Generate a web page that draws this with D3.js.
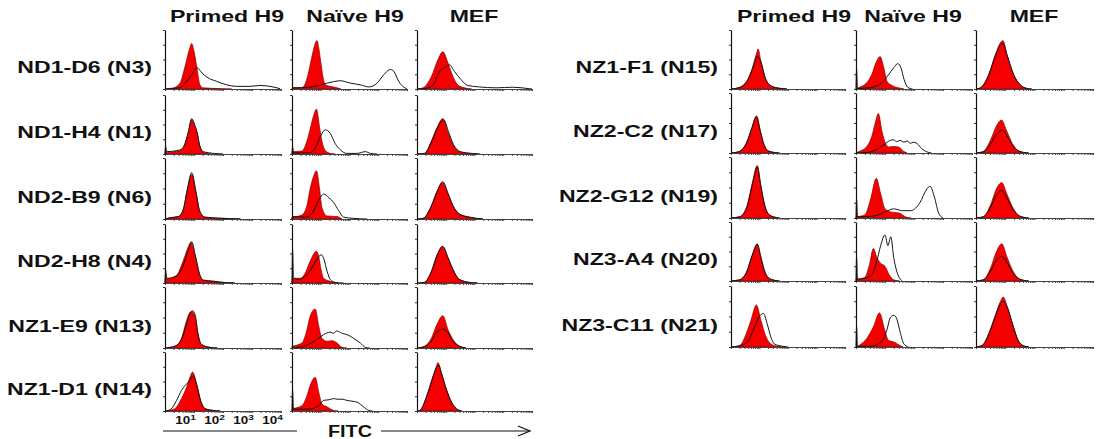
<!DOCTYPE html>
<html><head><meta charset="utf-8">
<script src="https://cdn.jsdelivr.net/npm/d3@7"></script>
<style>
html,body{margin:0;padding:0;background:#fff;}
svg{display:block;}
text{font-family:"Liberation Sans",Arial,sans-serif;font-weight:bold;fill:#111;}
</style></head>
<body>
<svg id="chart" width="1103" height="439"></svg>
<script>
// ---------------- DATA ----------------
const columns = ["Primed H9", "Naïve H9", "MEF"];
const leftRows = ["ND1-D6 (N3)", "ND1-H4 (N1)", "ND2-B9 (N6)", "ND2-H8 (N4)", "NZ1-E9 (N13)", "NZ1-D1 (N14)"];
const rightRows = ["NZ1-F1 (N15)", "NZ2-C2 (N17)", "NZ2-G12 (N19)", "NZ3-A4 (N20)", "NZ3-C11 (N21)"];
const tickBase = "10";
const tickExponents = ["1", "2", "3", "4"];
const tickValues = [10, 100, 1000, 10000];
const axisTitle = "FITC";
// each histogram: [log10 FITC, % of max count] points; [primed, naive, mef]
const ND1_D6_fill = [
  [[0,0],[0.3,2],[0.52,10],[0.69,38],[0.84,67],[0.92,77],[1.0,64],[1.11,33],[1.2,8],[1.3,2],[2.0,0.5],[2.3,0]],
  [[0,2],[0.3,2],[0.4,4],[0.56,25],[0.68,52],[0.8,76],[0.87,82],[0.93,70],[0.99,50],[1.08,20],[1.16,7],[1.33,4.5],[1.57,2],[1.7,0]],
  [[0,0],[0.21,2],[0.5,21],[0.73,50],[0.9,63],[1.08,44],[1.25,21],[1.42,7],[1.65,2],[1.9,0]]];
const ND1_D6_line = [
  [[0,0],[0.5,2],[0.75,13],[0.92,24],[1.1,36],[1.28,27],[1.45,20],[1.78,13],[2.13,7],[2.47,4.5],[2.93,4.5],[3.28,6],[3.62,4.5],[3.97,0.5]],
  [[0,2],[0.6,3],[1.0,7],[1.22,10],[1.45,12.5],[1.68,14],[2.03,10],[2.38,7],[2.67,3.5],[2.96,10],[3.19,24],[3.42,33],[3.54,30],[3.71,13],[3.88,3.5],[4.0,0]],
  [[0,0],[0.3,1],[0.56,7],[0.79,30],[1.02,38],[1.13,41],[1.3,30],[1.53,16],[1.76,6],[2.17,3.5],[2.75,2],[3.33,3],[3.91,0.5],[4,0]]];
const ND1_H4_fill = [
  [[0,4],[0.1,3],[0.52,6],[0.69,17],[0.8,35],[0.92,58],[1.02,48],[1.11,35],[1.2,13],[1.32,3],[1.6,0]],
  [[0,4],[0.34,5],[0.52,22],[0.63,42],[0.75,65],[0.85,76],[0.96,45],[1.04,22],[1.16,6],[1.33,1],[1.5,0]],
  [[0,0],[0.26,1],[0.5,22],[0.67,42],[0.9,60],[1.08,36],[1.25,16],[1.48,4],[1.83,1],[2.1,0]]];
const ND1_H4_line = [
  [[0,0],[0.02,12],[0.06,4],[0.52,7],[0.69,18],[0.8,37],[0.92,60],[1.02,50],[1.11,36],[1.2,14],[1.32,4],[1.7,1],[2.0,0]],
  [[0,0],[0.02,12],[0.05,2],[0.57,2],[0.8,9],[0.99,30],[1.16,41],[1.33,35],[1.5,18],[1.68,7],[1.91,1],[2.26,1],[2.55,4],[2.73,1],[2.96,0]],
  [[0,0],[0.26,1],[0.5,20],[0.67,40],[0.93,58],[1.1,37],[1.27,16],[1.5,4],[1.9,1],[2.2,0]]];
const ND2_B9_fill = [
  [[0,0],[0.17,2],[0.46,4],[0.63,15],[0.77,48],[0.92,73],[1.07,43],[1.2,12],[1.38,3],[2.36,0.5],[2.6,0]],
  [[0,3],[0.34,6.5],[0.52,22],[0.63,49],[0.75,70],[0.85,79],[0.96,49],[1.04,19],[1.22,5],[1.57,4],[1.74,0]],
  [[0,0],[0.21,1],[0.5,22],[0.7,46],[0.88,60],[1.08,41],[1.25,22],[1.48,8],[1.83,3],[2.29,0]]];
const ND2_B9_line = [
  [[0,0],[0.17,2],[0.46,4],[0.63,16],[0.77,49],[0.92,76],[1.07,44],[1.2,13],[1.38,3],[2.0,1],[2.6,0]],
  [[0,0],[0.02,4],[0.5,3],[0.68,8],[0.96,33],[1.1,41],[1.28,35],[1.45,27],[1.62,14],[1.8,3],[2.15,1],[2.61,0]],
  [[0,0],[0.21,1],[0.5,21],[0.7,45],[0.9,61],[1.08,42],[1.25,22],[1.48,8],[1.83,3],[2.29,0]]];
const ND2_H8_fill = [
  [[0,7],[0.1,7],[0.4,13],[0.63,38],[0.8,61],[0.89,69],[1.05,44],[1.2,13],[1.32,4.5],[1.66,3],[2.1,0.5],[2.4,0]],
  [[0,8],[0.3,8],[0.46,17],[0.63,37],[0.85,54],[0.93,45],[1.01,23],[1.1,8],[1.33,3],[1.57,0]],
  [[0,0],[0.25,1],[0.5,20],[0.7,48],[0.88,62],[1.08,42],[1.25,23],[1.48,6],[1.83,1],[2.1,0]]];
const ND2_H8_line = [
  [[0,0],[0.02,22],[0.06,8],[0.4,12],[0.63,30],[0.8,55],[0.92,70],[1.05,46],[1.2,14],[1.32,5],[1.66,3],[2.1,0.5],[2.4,0]],
  [[0,0],[0.02,56],[0.05,10],[0.2,6],[0.57,17],[0.87,40],[1.01,48],[1.1,42],[1.22,20],[1.33,6],[1.51,1],[1.8,0]],
  [[0,0],[0.25,1],[0.5,19],[0.7,47],[0.9,62],[1.08,43],[1.25,23],[1.48,6],[1.83,1],[2.1,0]]];
const NZ1_E9_fill = [
  [[0,0],[0.34,3],[0.57,16],[0.72,41],[0.84,57],[0.92,60],[1.03,52],[1.14,22],[1.26,5],[1.55,1],[1.8,0]],
  [[0,3],[0.34,8],[0.52,30],[0.63,52],[0.81,64],[0.93,36],[1.04,16],[1.22,11],[1.39,12],[1.57,8],[1.74,1],[1.9,0]],
  [[0,0],[0.26,3],[0.5,16],[0.67,36],[0.9,53],[1.08,30],[1.25,14],[1.48,3],[1.7,0]]];
const NZ1_E9_line = [
  [[0,0],[0.34,3],[0.57,14],[0.72,36],[0.84,54],[0.95,61],[1.05,52],[1.14,23],[1.26,6],[1.55,1],[1.8,0]],
  [[0,0],[0.46,4],[0.87,14],[1.1,22],[1.33,26],[1.45,24],[1.55,28],[1.62,27],[1.75,24],[1.91,22],[2.14,16],[2.38,8],[2.55,1],[2.7,0]],
  [[0,0],[0.26,2],[0.5,11],[0.67,25],[0.9,31],[1.08,25],[1.25,11],[1.48,3],[1.7,0]]];
const NZ1_D1_fill = [
  [[0,0],[0.34,4],[0.57,21],[0.75,41],[0.86,57],[0.95,66],[1.09,46],[1.23,18],[1.38,4],[1.66,1],[1.9,0]],
  [[0,4],[0.34,9],[0.52,26],[0.63,43],[0.81,57],[0.93,32],[1.04,12],[1.22,7],[1.45,1],[1.6,0]],
  [[0,0],[0.1,1],[0.34,26],[0.52,54],[0.67,75],[0.73,82],[0.84,65],[1.02,37],[1.2,15],[1.37,4],[1.55,0]]];
const NZ1_D1_line = [
  [[0,0],[0.2,3],[0.4,18],[0.57,35],[0.75,46],[0.86,52],[0.97,60],[1.09,45],[1.23,17],[1.38,4],[1.66,1],[1.9,0]],
  [[0,0],[0.02,35],[0.05,3],[0.57,3],[0.93,9],[1.1,18],[1.28,19],[1.45,21],[1.57,20],[1.75,20],[1.91,18],[2.26,15],[2.49,7],[2.67,1],[2.8,0]],
  [[0,0],[0.1,1],[0.34,25],[0.52,52],[0.67,73],[0.75,78],[0.86,63],[1.02,37],[1.2,15],[1.37,4],[1.55,0]]];
const NZ1_F1_fill = [
  [[0,0],[0.26,2],[0.55,13],[0.75,36],[0.9,61],[0.95,68],[1.05,47],[1.2,19],[1.38,6],[1.61,2],[1.96,0]],
  [[0,0],[0.08,2],[0.36,10],[0.54,24],[0.71,47],[0.83,55],[0.95,38],[1.07,13],[1.24,6],[1.47,2],[1.65,0]],
  [[0,0],[0.15,2],[0.43,24],[0.66,58],[0.83,78],[0.92,82],[1.06,58],[1.29,24],[1.51,7],[1.74,1],[1.9,0]]];
const NZ1_F1_line = [
  [[0,0],[0.26,2],[0.55,12],[0.75,33],[0.92,55],[1.05,46],[1.2,19],[1.38,6],[1.61,2],[1.96,0]],
  [[0,0],[0.02,33],[0.05,1],[0.47,2],[0.87,10],[1.12,24],[1.3,36],[1.44,43],[1.55,36],[1.66,16],[1.78,3],[1.95,0]],
  [[0,0],[0.15,2],[0.43,23],[0.66,56],[0.83,74],[0.93,77],[1.06,58],[1.29,24],[1.51,7],[1.74,1],[1.9,0]]];
const NZ2_C2_fill = [
  [[0,0],[0.26,2],[0.55,18],[0.72,40],[0.9,62],[1.04,35],[1.15,15],[1.33,3],[1.7,0]],
  [[0,0],[0.08,2],[0.36,10],[0.54,27],[0.69,55],[0.77,66],[0.9,35],[1.02,16],[1.13,10],[1.3,11],[1.47,10],[1.64,3],[1.76,0]],
  [[0,0],[0.26,3],[0.49,21],[0.72,47],[0.87,55],[1.04,38],[1.24,16],[1.47,3],[1.8,0]]];
const NZ2_C2_line = [
  [[0,0],[0.26,2],[0.55,17],[0.72,40],[0.88,60],[1.04,34],[1.15,15],[1.33,3],[1.7,0]],
  [[0,0],[0.4,1],[0.72,6],[0.95,13],[1.18,21],[1.3,22],[1.4,19],[1.52,21],[1.65,18],[1.77,20],[1.87,16],[1.98,18],[2.1,16],[2.27,7],[2.44,2],[2.6,0]],
  [[0,0],[0.26,2],[0.49,15],[0.72,32],[0.9,38],[1.04,30],[1.24,14],[1.47,3],[1.8,0]]];
const NZ2_G12_fill = [
  [[0,0],[0.3,2],[0.55,18],[0.75,58],[0.92,86],[1.05,52],[1.2,18],[1.38,4],[1.7,0]],
  [[0,2],[0.3,5],[0.5,30],[0.7,65],[0.85,40],[1.0,15],[1.2,10],[1.5,8],[1.7,2],[1.9,0]],
  [[0,0],[0.25,2],[0.5,22],[0.7,48],[0.88,58],[1.05,40],[1.25,18],[1.5,3],[1.8,0]]];
const NZ2_G12_line = [
  [[0,0],[0.3,2],[0.55,17],[0.75,55],[0.92,84],[1.05,52],[1.2,18],[1.38,4],[1.7,0]],
  [[0,0],[0.02,30],[0.05,2],[0.6,3],[1.0,10],[1.3,15],[1.6,12],[1.9,12],[2.2,25],[2.45,48],[2.55,52],[2.7,35],[2.85,8],[3.0,0]],
  [[0,0],[0.25,2],[0.5,18],[0.7,38],[0.88,45],[1.05,33],[1.25,15],[1.5,3],[1.8,0]]];
const NZ3_A4_fill = [
  [[0,0],[0.3,2],[0.55,16],[0.75,45],[0.92,63],[1.05,40],[1.2,14],[1.4,3],[1.7,0]],
  [[0,3],[0.3,6],[0.45,25],[0.6,55],[0.72,40],[0.85,30],[1.0,25],[1.15,10],[1.3,2],[1.5,0]],
  [[0,0],[0.25,2],[0.5,22],[0.7,50],[0.88,63],[1.05,42],[1.25,18],[1.5,3],[1.8,0]]];
const NZ3_A4_line = [
  [[0,0],[0.3,2],[0.55,15],[0.75,44],[0.92,62],[1.05,40],[1.2,14],[1.4,3],[1.7,0]],
  [[0,0],[0.02,40],[0.05,3],[0.5,8],[0.7,30],[0.85,60],[1.0,78],[1.1,60],[1.2,75],[1.3,40],[1.45,10],[1.6,0]],
  [[0,0],[0.25,2],[0.5,17],[0.7,35],[0.88,42],[1.05,32],[1.25,15],[1.5,3],[1.8,0]]];
const NZ3_C11_fill = [
  [[0,0],[0.32,3],[0.51,19],[0.7,44],[0.89,69],[1.05,44],[1.21,19],[1.4,5],[1.65,1],[1.9,0]],
  [[0,0],[0.12,3],[0.37,14],[0.6,33],[0.81,56],[0.98,30],[1.12,11],[1.31,8],[1.5,3],[1.62,0]],
  [[0,0],[0.22,3],[0.46,25],[0.68,55],[0.83,74],[0.93,82],[1.07,66],[1.26,36],[1.44,11],[1.62,2],[1.8,0]]];
const NZ3_C11_line = [
  [[0,0],[0.32,2],[0.57,8],[0.83,33],[0.98,49],[1.14,55],[1.27,38],[1.4,16],[1.52,5],[1.84,1],[2.0,0]],
  [[0,0],[0.02,33],[0.05,1],[0.5,1],[0.87,8],[1.06,27],[1.19,49],[1.31,52],[1.4,47],[1.52,25],[1.65,5],[1.81,0]],
  [[0,0],[0.22,3],[0.46,24],[0.68,53],[0.85,72],[0.95,75],[1.07,65],[1.26,36],[1.44,11],[1.62,2],[1.8,0]]];

const leftFill = [ND1_D6_fill, ND1_H4_fill, ND2_B9_fill, ND2_H8_fill, NZ1_E9_fill, NZ1_D1_fill];
const leftLine = [ND1_D6_line, ND1_H4_line, ND2_B9_line, ND2_H8_line, NZ1_E9_line, NZ1_D1_line];
const rightFill = [NZ1_F1_fill, NZ2_C2_fill, NZ2_G12_fill, NZ3_A4_fill, NZ3_C11_fill];
const rightLine = [NZ1_F1_line, NZ2_C2_line, NZ2_G12_line, NZ3_A4_line, NZ3_C11_line];

// ---------------- LAYOUT ----------------
const svg = d3.select("#chart");
const SX = 1.4; // horizontal stretch of the original lettering

const blocks = [
  { cols: [[165,281],[292,407],[417,532]],
    rows: [[30,89],[95,154],[158,219],[224,283],[287,348],[352,411]],
    labels: leftRows, labelX: 152, headX: [227,355,474], fill: leftFill, line: leftLine },
  { cols: [[731,845],[856,972],[976,1093]],
    rows: [[30,89],[93,153],[157,218],[222,281],[286,347]],
    labels: rightRows, labelX: 718, headX: [794,913,1034], fill: rightFill, line: rightLine }
];

function stretchedText(x, y, str, size, anchor, sx) {
  return svg.append("g").attr("transform", `translate(${x},${y}) scale(${sx || SX},1)`)
    .append("text").attr("text-anchor", anchor).style("font-size", size + "px").text(str);
}

let firstX = null;
blocks.forEach((b, bi) => {
  columns.forEach((c, ci) => stretchedText(b.headX[ci], 22, c, 16.5, "middle"));
  b.rows.forEach((r, ri) => {
    stretchedText(b.labelX, r[1] - 16.5, b.labels[ri], 16.5, "end");
    b.cols.forEach((col, ci) => {
      const x = d3.scaleLog().domain([1, 10000]).range([col[0], col[1]]);
      const y = d3.scaleLinear().domain([0, 100]).range([r[1], r[0]]);
      if (bi === 0 && ri === b.rows.length - 1 && ci === 0) firstX = x;
      const g = svg.append("g");
      const area = d3.area().x(d => x(Math.pow(10, d[0]))).y0(y(0)).y1(d => y(d[1])).curve(d3.curveMonotoneX);
      const line = d3.line().x(d => x(Math.pow(10, d[0]))).y(d => y(d[1])).curve(d3.curveMonotoneX);
      g.append("path").datum(b.fill[ri][ci]).attr("d", area)
        .attr("fill", "#f50000").attr("stroke", "#8a0000").attr("stroke-width", 0.7);
      g.append("path").datum(b.line[ri][ci]).attr("d", line)
        .attr("fill", "none").attr("stroke", "#151515").attr("stroke-width", 1);
      // axes
      const ax = g.append("g").attr("transform", `translate(0,${r[1]})`)
        .call(d3.axisBottom(x).ticks(10).tickSize(2).tickSizeOuter(0).tickFormat(""));
      ax.select(".domain").attr("stroke", "#444");
      ax.selectAll(".tick line").attr("stroke", "#444");
      const ay = g.append("g").attr("transform", `translate(${col[0]},0)`)
        .call(d3.axisLeft(y).tickValues([0, 25, 50, 75, 100]).tickSize(2).tickSizeOuter(0).tickFormat(""));
      ay.select(".domain").attr("stroke", "#111").attr("stroke-width", 1.2);
      ay.selectAll(".tick line").attr("stroke", "#333");
    });
  });
});

// decade labels under the bottom-left panel
tickValues.forEach((v, i) => {
  const t = stretchedText(firstX(v) + 2, 424, "", 10, "end", 1.35);
  t.append("tspan").text(tickBase);
  t.append("tspan").attr("dy", -4).style("font-size", "7.5px").text(tickExponents[i]);
});

// FITC axis title with arrow
svg.append("line").attr("x1", 163).attr("x2", 297).attr("y1", 431).attr("y2", 431).attr("stroke", "#111").attr("stroke-width", 1.2);
stretchedText(350, 436.5, axisTitle, 16.5, "middle", 1.2);
svg.append("line").attr("x1", 381).attr("x2", 530).attr("y1", 431).attr("y2", 431).attr("stroke", "#111").attr("stroke-width", 1.2);
svg.append("path").attr("d", "M518,426 L530,431 L518,436").attr("fill", "none").attr("stroke", "#111").attr("stroke-width", 1.2);
</script>
</body></html>
